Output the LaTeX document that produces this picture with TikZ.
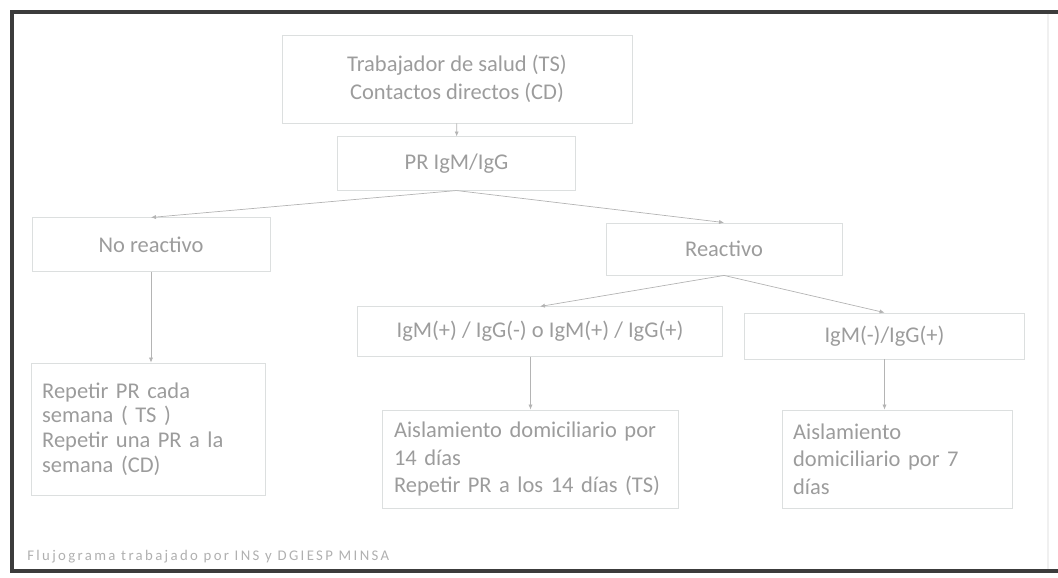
\documentclass[tikz,border=0pt]{standalone}
\usepackage{fontspec}
\setmainfont{Carlito}
\usetikzlibrary{arrows.meta,positioning}

\definecolor{txtgray}{HTML}{9C9C9C}
\definecolor{boxgray}{HTML}{DCDFDF}
\definecolor{lingray}{HTML}{B4B4B4}
\definecolor{framegray}{HTML}{3C3C3C}

\begin{document}
\begin{tikzpicture}[x=0.025cm, y=-0.025cm,
  caja/.style={draw=boxgray, line width=0.6pt, text=txtgray,
    font=\fontsize{16}{19.5}\selectfont, inner sep=0pt},
  cajatexto/.style={caja, align=left, inner xsep=0.28cm, inner ysep=0pt},
  flecha/.style={draw=lingray, line width=0.5pt, -{Latex[length=3.5pt,width=3pt]}}]

\useasboundingbox (0,0) rectangle (1058,578);

% Frame of the slide
\draw[framegray, line width=3pt] (1058,12) -- (12,12) -- (12,571) -- (1058,571);
\draw[gray!12, line width=0.8pt] (1048,14) -- (1048,569);

% Top boxes
\node[caja, minimum width=8.75cm, minimum height=2.2cm, align=center,
  font=\fontsize{16}{20}\selectfont] (trab) at (457,79)
  {Trabajador de salud (TS)\\Contactos directos (CD)};
\node[caja, minimum width=5.93cm, minimum height=1.33cm] (prueba) at (456.5,163.5) {PR IgM/IgG};

% Result of the test
\node[caja, minimum width=5.95cm, minimum height=1.33cm] (noreac) at (151,244.5) {No reactivo};
\node[caja, minimum width=5.9cm, minimum height=1.3cm] (reac) at (724,249) {Reactivo};

% Reactive cases
\node[caja, minimum width=9.13cm, minimum height=1.23cm] (igmpos) at (540,331.5)
  {IgM(+) / IgG(-) o IgM(+) / IgG(+)};
\node[caja, minimum width=6.98cm, minimum height=1.15cm] (iggpos) at (884.5,336) {IgM(-)/IgG(+)};

% What to do
\node[cajatexto, text width=5.29cm, minimum height=3.3cm,
  font=\fontsize{16}{17.5}\selectfont] (repetir) at (148,429)
  {Repetir PR cada\\semana ( TS )\\Repetir una PR a la\\semana (CD)};
\node[cajatexto, text width=6.82cm, minimum height=2.45cm] (aisl14) at (530.5,459)
  {Aislamiento domiciliario por\\14 días\\Repetir PR a los 14 días (TS)};
\node[cajatexto, text width=5.19cm, minimum height=2.45cm] (aisl7) at (897,459)
  {Aislamiento\\domiciliario por 7\\días};

% Connectors
\draw[flecha] (trab) -- (prueba);
\draw[flecha] (prueba.south) -- (noreac.north);
\draw[flecha] (prueba.south) -- (reac.north);
\draw[flecha] (noreac.south) -- (noreac.south |- repetir.north);
\draw[flecha] (reac.south) -- (igmpos.north);
\draw[flecha] (reac.south) -- (iggpos.north);
\draw[flecha] (aisl14.north |- igmpos.south) -- (aisl14.north);
\draw[flecha] (iggpos.south) -- (iggpos.south |- aisl7.north);

% Source
\node[anchor=west, inner sep=0pt, text=txtgray!80,
  font=\fontsize{10.5}{12}\selectfont\addfontfeature{LetterSpace=16}] (pie) at (27,557)
  {Flujograma trabajado por INS y DGIESP MINSA};

\end{tikzpicture}
\end{document}
